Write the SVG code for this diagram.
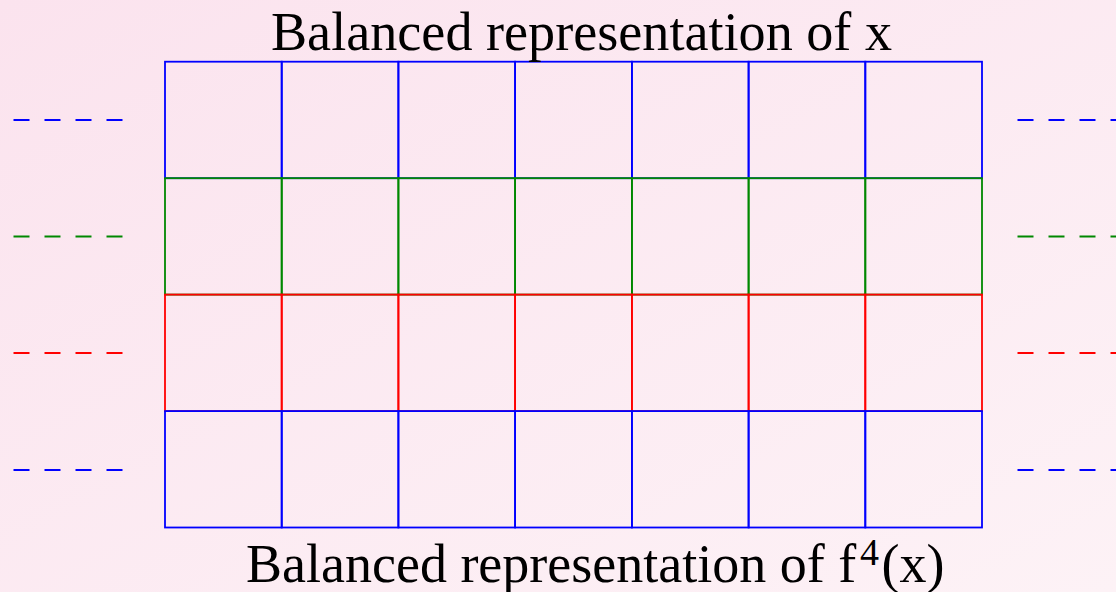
<svg xmlns="http://www.w3.org/2000/svg" width="1116" height="592" viewBox="0 0 1116 592">
<defs>
<linearGradient id="bg" x1="0" y1="0" x2="1" y2="1">
<stop offset="0" stop-color="#fbe3ee"/>
<stop offset="1" stop-color="#fdf2f6"/>
</linearGradient>
<style>
.b{stroke:#0000ff}
.g{stroke:#008800}
.r{stroke:#ff0000}
rect.c{fill:none;stroke-width:1.8}
line.d{stroke-width:1.8;stroke-dasharray:16 15}
text{font-family:"Liberation Serif","Times New Roman",serif;fill:#000}
</style>
</defs>
<rect width="1116" height="592" fill="url(#bg)"/>
<g id="row1">
<rect class="c b" x="165" y="61.7" width="116.7" height="116.5"/>
<rect class="c b" x="281.7" y="61.7" width="116.7" height="116.5"/>
<rect class="c b" x="398.4" y="61.7" width="116.7" height="116.5"/>
<rect class="c b" x="515.1" y="61.7" width="116.8" height="116.5"/>
<rect class="c b" x="631.9" y="61.7" width="116.7" height="116.5"/>
<rect class="c b" x="748.6" y="61.7" width="116.7" height="116.5"/>
<rect class="c b" x="865.3" y="61.7" width="116.7" height="116.5"/>
</g>
<g id="row2">
<rect class="c g" x="165" y="178.2" width="116.7" height="116.4"/>
<rect class="c g" x="281.7" y="178.2" width="116.7" height="116.4"/>
<rect class="c g" x="398.4" y="178.2" width="116.7" height="116.4"/>
<rect class="c g" x="515.1" y="178.2" width="116.8" height="116.4"/>
<rect class="c g" x="631.9" y="178.2" width="116.7" height="116.4"/>
<rect class="c g" x="748.6" y="178.2" width="116.7" height="116.4"/>
<rect class="c g" x="865.3" y="178.2" width="116.7" height="116.4"/>
</g>
<g id="row3">
<rect class="c r" x="165" y="294.6" width="116.7" height="116.5"/>
<rect class="c r" x="281.7" y="294.6" width="116.7" height="116.5"/>
<rect class="c r" x="398.4" y="294.6" width="116.7" height="116.5"/>
<rect class="c r" x="515.1" y="294.6" width="116.8" height="116.5"/>
<rect class="c r" x="631.9" y="294.6" width="116.7" height="116.5"/>
<rect class="c r" x="748.6" y="294.6" width="116.7" height="116.5"/>
<rect class="c r" x="865.3" y="294.6" width="116.7" height="116.5"/>
</g>
<g id="row4">
<rect class="c b" x="165" y="411.1" width="116.7" height="116.4"/>
<rect class="c b" x="281.7" y="411.1" width="116.7" height="116.4"/>
<rect class="c b" x="398.4" y="411.1" width="116.7" height="116.4"/>
<rect class="c b" x="515.1" y="411.1" width="116.8" height="116.4"/>
<rect class="c b" x="631.9" y="411.1" width="116.7" height="116.4"/>
<rect class="c b" x="748.6" y="411.1" width="116.7" height="116.4"/>
<rect class="c b" x="865.3" y="411.1" width="116.7" height="116.4"/>
</g>
<g id="connectors">
<line class="d b" x1="13.5" y1="120" x2="123" y2="120"/>
<line class="d g" x1="13.5" y1="236.5" x2="123" y2="236.5"/>
<line class="d r" x1="13.5" y1="353" x2="123" y2="353"/>
<line class="d b" x1="13.5" y1="470" x2="123" y2="470"/>
<line class="d b" x1="1017.5" y1="120" x2="1116" y2="120"/>
<line class="d g" x1="1017.5" y1="236.5" x2="1116" y2="236.5"/>
<line class="d r" x1="1017.5" y1="353" x2="1116" y2="353"/>
<line class="d b" x1="1017.5" y1="470" x2="1116" y2="470"/>
</g>
<g id="title-top">
<text x="271" y="50" font-size="54" textLength="621" lengthAdjust="spacingAndGlyphs">Balanced representation of x</text>
</g>
<g id="title-bottom">
<text x="246" y="582" font-size="54">Balanced representation of f<tspan x="860" y="565" font-size="38">4</tspan><tspan x="881.5" y="582">(x)</tspan></text>
</g>
</svg>
